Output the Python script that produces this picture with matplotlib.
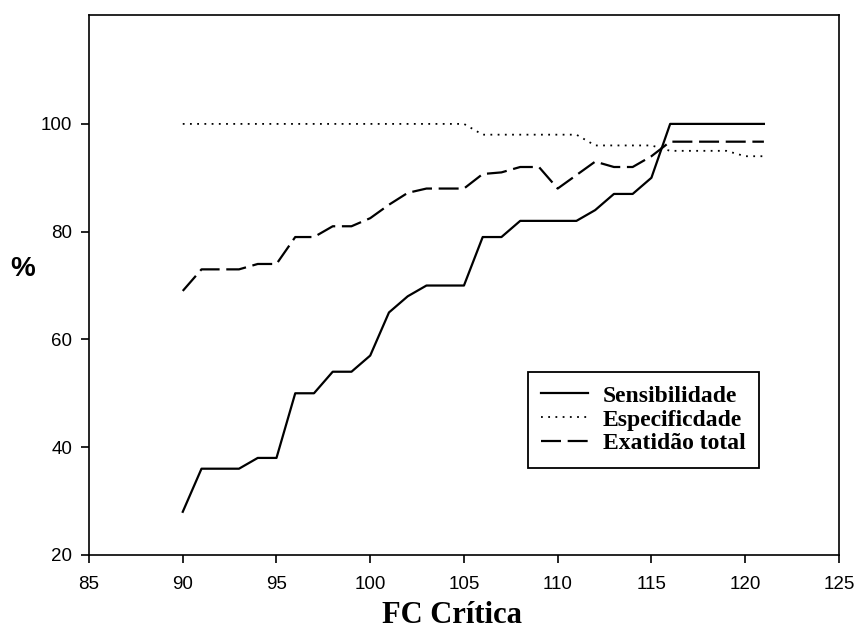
import numpy as np
import matplotlib.pyplot as plt

# FC crítica (bpm) e desempenho do critério (%)
fc = list(range(90, 122))

sensibilidade = [28, 36, 36, 36, 38, 38, 50, 50, 54, 54, 57, 65, 68, 70, 70, 70,
                 79, 79, 82, 82, 82, 82, 84, 87, 87, 90, 100, 100, 100, 100, 100, 100]
especificidade = [100, 100, 100, 100, 100, 100, 100, 100, 100, 100, 100, 100, 100, 100, 100, 100,
                  98, 98, 98, 98, 98, 98, 96, 96, 96, 96, 95, 95, 95, 95, 94, 94]
exatidao = [69, 73, 73, 73, 74, 74, 79, 79, 81, 81, 82.5, 85, 87.2, 88, 88, 88,
            90.7, 91, 92, 92, 88, 90.5, 93, 92, 92, 94, 96.7, 96.7, 96.7, 96.7, 96.7, 96.7]

x_ticks = [85, 90, 95, 100, 105, 110, 115, 120, 125]
y_ticks = [20, 40, 60, 80, 100]

fig = plt.figure(figsize=(8.56, 6.32), dpi=100)
ax = fig.add_axes([0.104, 0.122, 0.876, 0.855])

ax.plot(fc, sensibilidade, color='black', lw=1.6, label='Sensibilidade')
ax.plot(fc, especificidade, color='black', lw=1.3, linestyle=(0, (1, 3)), label='Especificdade')
ax.plot(fc, exatidao, color='black', lw=1.6, linestyle=(0, (9, 3)), label='Exatidão total')

ax.set_xlim(85, 125)
ax.set_ylim(20, 120.3)
ax.set_xticks(x_ticks)
ax.set_yticks(y_ticks)

for s in ax.spines.values():
    s.set_linewidth(1.2)

ax.tick_params(direction='out', length=6, width=1.2, top=False, right=False)
ax.tick_params(axis='x', pad=9)
ax.tick_params(axis='y', pad=6)
for lab in ax.get_xticklabels() + ax.get_yticklabels():
    lab.set_fontfamily('Liberation Sans')
    lab.set_fontsize(13.5)

ax.set_xlabel('FC Crítica', fontfamily='Liberation Serif', fontweight='bold', fontsize=22)
ax.xaxis.set_label_coords(0.484, -0.086)
ax.set_ylabel('%', fontfamily='Liberation Sans', fontweight='bold', fontsize=20,
              rotation=0, va='center', ha='center')
ax.yaxis.set_label_coords(-0.089, 0.53)

leg = ax.legend(loc='upper left', bbox_to_anchor=(0.585, 0.339), frameon=True,
                fancybox=False, edgecolor='black', framealpha=1,
                prop={'family': 'Liberation Serif', 'weight': 'bold', 'size': 17},
                handlelength=2.0, handletextpad=0.6, labelspacing=0.1,
                borderpad=0.57, borderaxespad=0)
leg.get_frame().set_linewidth(1.3)

fig.savefig('out.png', dpi=100)
